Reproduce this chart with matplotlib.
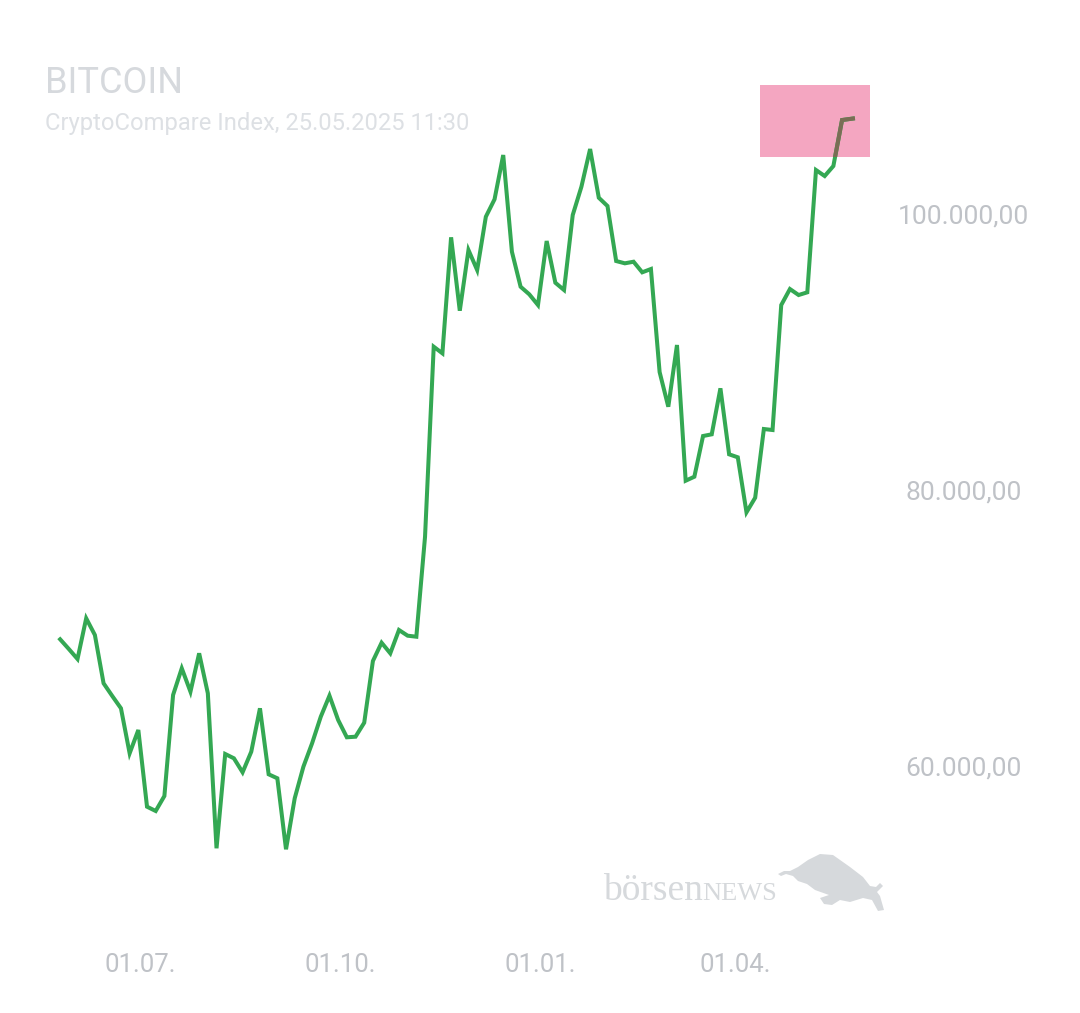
import matplotlib
matplotlib.use("Agg")
import matplotlib.pyplot as plt
import matplotlib.dates as mdates
from matplotlib.patches import Rectangle, Polygon
import pandas as pd
import numpy as np

# ---- data ----
dates = list(pd.date_range("2024-05-25", periods=91, freq="4D")) + [pd.Timestamp("2025-05-25")]
prices = [69181, 68478, 67753, 70702, 69492, 65992, 65072, 64181, 60920, 62609,
          57051, 56739, 57826, 65145, 67079, 65384, 68166, 65268, 54037, 60870,
          60558, 59543, 61036, 64181, 59399, 59109, 53964, 57660, 59949, 61645,
          63572, 65094, 63333, 62080, 62123, 63137, 67608, 68934, 68166, 69855,
          69442, 69369, 76615, 90383, 89904, 98310, 92991, 97389, 95940, 99802,
          101063, 104273, 97266, 94730, 94179, 93404, 98042, 95020, 94491, 99925,
          101976, 104708, 101179, 100578, 96592, 96426, 96542, 95774, 96013, 88549,
          86035, 90506, 80673, 80963, 83912, 84035, 87368, 82586, 82368, 78383,
          79441, 84419, 84347, 93404, 94563, 94129, 94324, 103186, 102751, 103476,
          106809, 106918]
xtick_dates = ["2024-07-01", "2024-10-01", "2025-01-01", "2025-04-01"]
xtick_labels = ["01.07.", "01.10.", "01.01.", "01.04."]
ytick_values = [60000, 80000, 100000]
ytick_labels = ["60.000,00", "80.000,00", "100.000,00"]
title = "BITCOIN"
subtitle = "CryptoCompare Index, 25.05.2025 11:30"
highlight_x = ["2025-04-12", "2025-06-02"]
highlight_y = [104130, 109345]

# ---- figure ----
W, H = 1080, 1013
fig = plt.figure(figsize=(W / 100, H / 100), dpi=100)
fig.patch.set_facecolor("white")

L, R, T, B = 40, 890, 60, 900
ax = fig.add_axes([L / W, 1 - B / H, (R - L) / W, (B - T) / H])
ax.set_facecolor("none")

ref = pd.Timestamp("2024-07-01")
pxday = 2.172
x0 = ref + pd.Timedelta(days=(L - 140.5) / pxday)
x1 = ref + pd.Timedelta(days=(R - 140.5) / pxday)
vpp = 20000 / 276.0
ax.set_xlim(x0, x1)
ax.set_ylim(60000 - (B - 766) * vpp, 60000 + (766 - T) * vpp)

for s in ax.spines.values():
    s.set_visible(False)

green = "#34a853"
hx0 = mdates.date2num(pd.Timestamp(highlight_x[0]))
hx1 = mdates.date2num(pd.Timestamp(highlight_x[1]))
rect = Rectangle((hx0, highlight_y[0]), hx1 - hx0, highlight_y[1] - highlight_y[0],
                 facecolor="#f4a6c1", edgecolor="none", zorder=1)
ax.add_patch(rect)

ax.plot(dates, prices, color=green, lw=2.9, zorder=2, solid_joinstyle="miter")
ln, = ax.plot(dates, prices, color="#7a6d55", lw=2.9, zorder=3, solid_joinstyle="miter")
ln.set_clip_path(rect)

tick_color = "#bfc2c7"
ax.set_xticks([pd.Timestamp(d) for d in xtick_dates])
ax.set_xticklabels(xtick_labels)
ax.tick_params(axis="x", length=0, pad=38, labelsize=18.5, labelcolor=tick_color)
ax.yaxis.tick_right()
ax.set_yticks(ytick_values)
ax.set_yticklabels(ytick_labels)
ax.tick_params(axis="y", length=0, pad=53, labelsize=19, labelcolor=tick_color)
for lab in ax.get_yticklabels():
    lab.set_horizontalalignment("center")
for lab in ax.get_xticklabels() + ax.get_yticklabels():
    lab.set_fontfamily(["Roboto", "DejaVu Sans"])

# titles
fig.text(45 / W, 1 - 93.3 / H, title, fontsize=26, color="#d6d9dd",
         family=["Roboto", "DejaVu Sans"], va="baseline", ha="left")
fig.text(45 / W, 1 - 130 / H, subtitle, fontsize=17.1, color="#dde0e4",
         family=["Roboto", "DejaVu Sans"], va="baseline", ha="left")

# logo
logo_c = "#d6d9dc"
fig.text(603 / W, 1 - 900 / H, "börsen", fontsize=27, color=logo_c,
         family=["Liberation Serif", "DejaVu Serif"], va="baseline", ha="left")
fig.text(702 / W, 1 - 900 / H, "NEWS", fontsize=19, color=logo_c,
         family=["Liberation Serif", "DejaVu Serif"], va="baseline", ha="left")
bull_px = [(778, 874), (784, 871), (790, 871), (798, 867), (808, 860), (820, 854),
           (833, 855), (850, 867), (863, 877), (870, 886), (876, 887), (880, 883),
           (883, 886), (877, 892), (880, 896), (884, 910), (878, 911), (872, 900),
           (863, 898), (850, 902), (840, 900), (832, 905), (824, 904), (820, 898),
           (829, 895), (815, 890), (807, 884), (798, 881), (793, 876), (786, 874),
           (781, 876)]
bull = Polygon([(x / W, 1 - y / H) for x, y in bull_px], closed=True,
               transform=fig.transFigure, facecolor=logo_c, edgecolor="none")
fig.patches.append(bull)

fig.savefig("out.png", dpi=100, facecolor="white")
